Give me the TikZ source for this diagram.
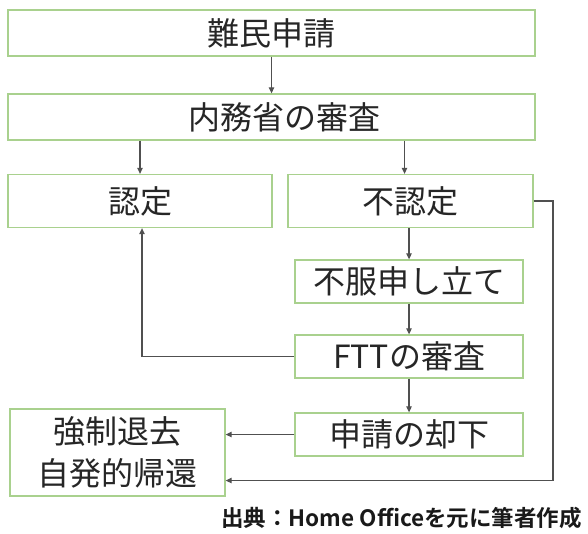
\documentclass[tikz,border=0pt]{standalone}
\usepackage{fontspec}
\newfontfamily\jp{Noto Sans CJK JP}[BoldFont={Noto Sans CJK JP Bold}]
\usetikzlibrary{arrows.meta}
\definecolor{boxgreen}{HTML}{A9D18E}
\definecolor{linegray}{HTML}{505050}
\tikzset{
  box/.style={draw=boxgreen, line width=1.3pt, inner sep=0pt, align=center,
    font=\jp\fontsize{32}{42}\selectfont, text=black!85},
  arr/.style={draw=linegray, line width=1.2pt, -{Triangle[length=6pt,width=5.5pt]}},
}
\begin{document}
\begin{tikzpicture}[x=1pt,y=-1pt]
\useasboundingbox (0,0) rectangle (588,533);
\node[box, minimum width=527pt, minimum height=46pt] (b1) at (271.5,33) {難民申請};
\node[box, minimum width=527pt, minimum height=46pt] (b2) at (271.5,117) {\hspace*{26pt}内務省の審査};
\node[box, minimum width=264pt, minimum height=53pt] (nin) at (140,201) {認定};
\node[box, minimum width=245pt, minimum height=53pt] (fun) at (410.5,201) {不認定};
\node[box, minimum width=228pt, minimum height=43pt] (fuf) at (409,281.5) {不服申し立て};
\node[box, minimum width=228pt, minimum height=43pt] (ftt) at (409,356.5) {FTTの審査};
\node[box, minimum width=228pt, minimum height=43pt] (kya) at (409,434.5) {申請の却下};
\node[box, minimum width=215pt, minimum height=87pt] (kyo) at (117.5,452.5) {強制退去\\自発的帰還};
\node[anchor=east, font=\jp\bfseries\fontsize{22.5}{26}\selectfont, inner sep=0pt, text=black!90] (src) at (582,518) {出典：Home Officeを元に筆者作成};
\coordinate (rc) at (553,0);
\draw[arr] (b1.south) -- (b2.north);
\draw[arr] (b2.south -| nin.north) -- (nin.north);
\draw[arr] ([xshift=-6pt]fun.north |- b2.south) -- ([xshift=-6pt]fun.north);
\draw[arr] (fun.south -| fuf.north) -- (fuf.north);
\draw[arr] (fuf.south) -- (ftt.north);
\draw[arr] (ftt.south) -- (kya.north);
\draw[arr] (ftt.west) -| ([xshift=2pt]nin.south);
\draw[arr] (kya.west) -- (kya.west -| kyo.east);
\draw[arr] (fun.east) -- (fun.east -| rc) |- ([yshift=-28pt]kyo.east);
\end{tikzpicture}
\end{document}
